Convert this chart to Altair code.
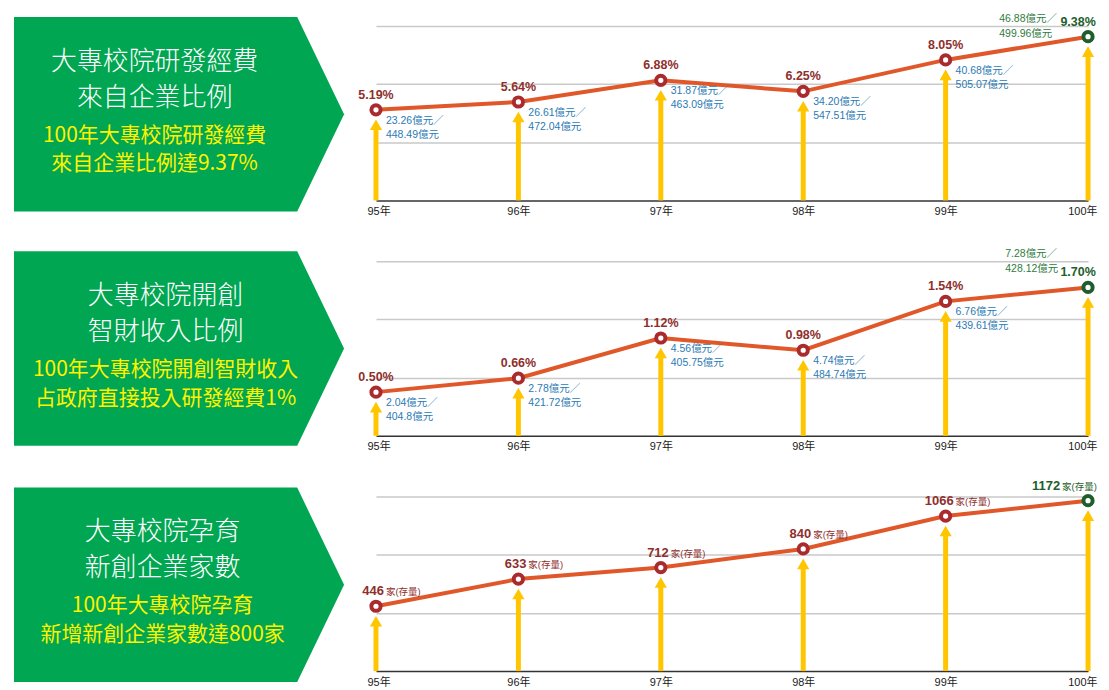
import altair as alt
import pandas as pd

# ---------------- data ----------------
years = ["95年", "96年", "97年", "98年", "99年", "100年"]

rd_ratio = [5.19, 5.64, 6.88, 6.25, 8.05, 9.38]
rd_ratio_text = ["5.19%", "5.64%", "6.88%", "6.25%", "8.05%", "9.38%"]
rd_corp = ["23.26億元／", "26.61億元／", "31.87億元／", "34.20億元／", "40.68億元／", "46.88億元／"]
rd_total = ["448.49億元", "472.04億元", "463.09億元", "547.51億元", "505.07億元", "499.96億元"]

ip_ratio = [0.50, 0.66, 1.12, 0.98, 1.54, 1.70]
ip_ratio_text = ["0.50%", "0.66%", "1.12%", "0.98%", "1.54%", "1.70%"]
ip_income = ["2.04億元／", "2.78億元／", "4.56億元／", "4.74億元／", "6.76億元／", "7.28億元／"]
ip_gov = ["404.8億元", "421.72億元", "405.75億元", "484.74億元", "439.61億元", "428.12億元"]

startups = [446, 633, 712, 840, 1066, 1172]
startup_text = ["446", "633", "712", "840", "1066", "1172"]
startup_unit = "家(存量)"

y_max = [10, 2, 1200]

box_titles = [["大專校院研發經費", "來自企業比例"],
              ["大專校院開創", "智財收入比例"],
              ["大專校院孕育", "新創企業家數"]]
box_notes = [["100年大專校院研發經費", "來自企業比例達9.37%"],
             ["100年大專校院開創智財收入", "占政府直接投入研發經費1%"],
             ["100年大專校院孕育", "新增新創企業家數達800家"]]

# arrow-shaped box outline in box units
box_x = [0, 0.858, 1]
box_lo = [0, 0, 0.5]
box_hi = [1, 1, 0.5]

# ---------------- style ----------------
CJK = "Noto Sans CJK TC"
NUM = "Liberation Sans, Noto Sans CJK TC, sans-serif"
GREEN_BOX = "#00A651"
NOTE_YELLOW = "#FFF200"
LINE = "#E0582A"
RING = "#AA2B2E"
RING_LAST = "#1E5E2C"
ARROW = "#FFC600"
PCT = "#8E2F2C"
BLUE = "#2B7AB4"
GREEN_TXT = "#2E7B3E"
GRID = "#C9C9C9"
BASE = "#333333"

BOX_W, BOX_H = 331, 195
CH_W, CH_H = 714, 175
box_cx = [141, 152, 149]
box_top = [9, 10, 9]          # how far each box starts above its chart
EDGE = -10                    # pull of the right-most labels


def make_box(i):
    off = box_top[i]
    shape = pd.DataFrame({"bx": box_x, "lo": box_lo, "hi": box_hi})
    area = alt.Chart(shape).mark_area(color=GREEN_BOX, opacity=1).encode(
        x=alt.X("bx:Q", scale=alt.Scale(domain=[0, 1], nice=False, zero=False), axis=None),
        y=alt.Y("lo:Q", scale=alt.Scale(domain=[0, 1], nice=False, range=[BOX_H - off, -off]),
                axis=None),
        y2="hi:Q",
    )
    layers = [area]
    specs = [(box_titles[i][0], 45, 26, "white", 300),
             (box_titles[i][1], 81, 26, "white", 300),
             (box_notes[i][0], 119, 21, NOTE_YELLOW, 400),
             (box_notes[i][1], 148, 21, NOTE_YELLOW, 400)]
    for txt, yy, fs, col, fw in specs:
        layers.append(
            alt.Chart(pd.DataFrame({"t": [txt]})).mark_text(
                font=CJK, fontSize=fs, fontWeight=fw, color=col, align="center", baseline="middle"
            ).encode(text="t:N", x=alt.value(box_cx[i]), y=alt.value(yy - off))
        )
    return alt.layer(*layers).properties(width=BOX_W, height=CH_H)


def make_panel(values, ymax, kind, texts, line_a=None, line_b=None, last_dx=-79, last_dy=(-18, -3)):
    n = len(values)
    df = pd.DataFrame({
        "year": years,
        "v": values,
        "zero": [0] * n,
        "last": [False] * (n - 1) + [True],
        "lab": texts,
    })
    if line_a is not None:
        df["a"] = line_a
        df["b"] = line_b
    x = alt.X("year:N", sort=years,
              scale=alt.Scale(type="point", domain=years, padding=0),
              axis=alt.Axis(title=None, labelAngle=0, ticks=False, grid=False,
                            domainColor=BASE, domainWidth=1.5, labelFontSize=11,
                            labelFont=NUM, labelColor="#1a1a1a", labelPadding=5,
                            labelFlush=True, labelFlushOffset=9))
    y = alt.Y("v:Q", scale=alt.Scale(domain=[0, ymax], nice=False, zero=True),
              axis=alt.Axis(title=None, values=[ymax / 3, 2 * ymax / 3, ymax], grid=True,
                            gridColor=GRID, gridWidth=1.5, labels=False, ticks=False, domain=False))
    base = alt.Chart(df).encode(x=x, y=y)
    shaft = base.mark_rule(color=ARROW, strokeWidth=5, yOffset=18).encode(y2="zero:Q")
    head = base.mark_point(shape="triangle-up", filled=True, color=ARROW, size=150,
                           opacity=1, yOffset=15)
    line = base.mark_line(color=LINE, strokeWidth=4)
    ring = base.mark_point(shape="circle", filled=True, fill="white", fillOpacity=1, opacity=1,
                           size=85, strokeWidth=4).encode(
        stroke=alt.condition("datum.last", alt.value(RING_LAST), alt.value(RING)))
    layers = [shaft, head, line, ring]
    normal = "!datum.last"
    last = "datum.last"
    if kind == "pct":
        for flt, col, dx in ((normal, PCT, 0), (last, RING_LAST, EDGE)):
            layers.append(base.mark_text(font=NUM, fontSize=12.5, fontWeight="bold", color=col,
                                         align="center", baseline="middle", dx=dx, dy=-15)
                          .encode(text="lab:N").transform_filter(flt))
        for col, d in (("a", 11), ("b", 25)):
            layers.append(base.mark_text(font=NUM, fontSize=10.5, color=BLUE, align="left",
                                         baseline="middle", dx=10, dy=d).encode(text=f"{col}:N")
                          .transform_filter(normal))
        for col, d in (("a", last_dy[0]), ("b", last_dy[1])):
            layers.append(base.mark_text(font=NUM, fontSize=10.5, color=GREEN_TXT, align="left",
                                         baseline="middle", dx=last_dx + EDGE, dy=d)
                          .encode(text=f"{col}:N").transform_filter(last))
    else:
        for flt, shift, col in ((normal, 0, PCT), (last, -26 + EDGE, RING_LAST)):
            layers.append(base.mark_text(font=NUM, fontSize=13, fontWeight="bold", color=col,
                                         align="right", baseline="alphabetic", dx=8 + shift,
                                         dy=-11).encode(text="lab:N").transform_filter(flt))
            layers.append(base.mark_text(font=NUM, fontSize=9.5, color=col, align="left",
                                         baseline="alphabetic", dx=10 + shift, dy=-11)
                          .encode(text=alt.value(startup_unit)).transform_filter(flt))
    return alt.layer(*layers).properties(width=CH_W, height=CH_H)


panel1 = make_panel(rd_ratio, y_max[0], "pct", rd_ratio_text, rd_corp, rd_total, -79, (-18, -3))
panel2 = make_panel(ip_ratio, y_max[1], "pct", ip_ratio_text, ip_income, ip_gov, -73, (-33, -18))
panel3 = make_panel(startups, y_max[2], "count", startup_text)

chart = alt.concat(
    make_box(0), panel1,
    make_box(1), panel2,
    make_box(2), panel3,
    columns=2,
    spacing={"row": 61, "column": 32},
    bounds="flush",
).properties(
    padding={"left": 6, "top": 4, "right": 0, "bottom": 0}
).configure_view(strokeWidth=0)

chart.save("out.html", embed_options={"renderer": "svg", "actions": False})
